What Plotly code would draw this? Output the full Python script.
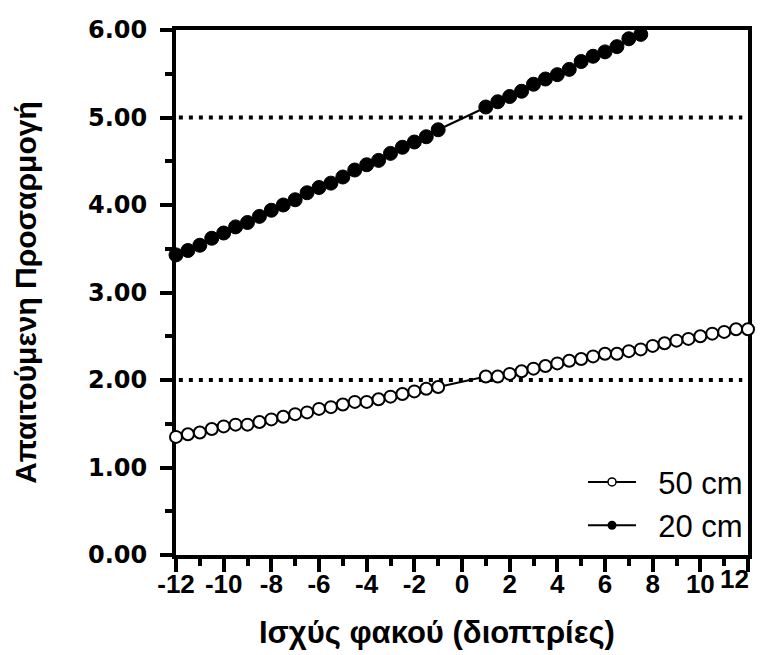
import plotly.graph_objects as go

# Lens power (dioptres)
x_neg = [-12, -11.5, -11, -10.5, -10, -9.5, -9, -8.5, -8, -7.5, -7, -6.5,
         -6, -5.5, -5, -4.5, -4, -3.5, -3, -2.5, -2, -1.5, -1]
x_pos_50 = [1, 1.5, 2, 2.5, 3, 3.5, 4, 4.5, 5, 5.5, 6, 6.5, 7, 7.5, 8, 8.5,
            9, 9.5, 10, 10.5, 11, 11.5, 12]
x_pos_20 = [1, 1.5, 2, 2.5, 3, 3.5, 4, 4.5, 5, 5.5, 6, 6.5, 7, 7.5]

x_50 = x_neg + x_pos_50
x_20 = x_neg + x_pos_20

# Required accommodation (D)
y_50 = [1.35, 1.38, 1.40, 1.44, 1.47, 1.49, 1.49, 1.52, 1.55, 1.58, 1.61, 1.63,
        1.67, 1.69, 1.72, 1.75, 1.75, 1.78, 1.81, 1.84, 1.87, 1.90, 1.92,
        2.04, 2.04, 2.07, 2.10, 2.13, 2.16, 2.19, 2.22, 2.24, 2.27, 2.30, 2.30,
        2.33, 2.35, 2.39, 2.42, 2.45, 2.47, 2.50, 2.53, 2.55, 2.58, 2.58]
y_20 = [3.43, 3.48, 3.54, 3.62, 3.68, 3.75, 3.80, 3.87, 3.94, 4.00, 4.06, 4.14,
        4.20, 4.25, 4.32, 4.40, 4.46, 4.51, 4.59, 4.66, 4.72, 4.78, 4.86,
        5.12, 5.18, 5.24, 5.30, 5.38, 5.44, 5.49, 5.55, 5.64, 5.70, 5.75, 5.81,
        5.90, 5.95]

ref_levels = [2.0, 5.0]

x_tickvals = [-12, -10, -8, -6, -4, -2, 0, 2, 4, 6, 8, 10, 12]
x_ticktext = ["-12", "-10", "-8", "-6", "-4", "-2", "0", "2", "4", "6", "8", "10", "12"]
y_tickvals = [0, 1, 2, 3, 4, 5, 6]
y_ticktext = ["0.00", "1.00", "2.00", "3.00", "4.00", "5.00", "6.00"]

series_names = ["50 cm", "20 cm"]
x_title = "Ισχύς φακού (διοπτρίες)"
y_title = "Απαιτούμενη Προσαρμογή"

WIDE = "DejaVu Sans, Liberation Sans, Arial, sans-serif"
ARIAL = "Liberation Sans, Arial, sans-serif"
NBSP = "\u00a0"

fig = go.Figure()

fig.add_trace(go.Scatter(
    x=x_50, y=y_50, mode="lines+markers", name=series_names[0],
    line=dict(color="black", width=2),
    marker=dict(symbol="circle", size=12, color="white",
                line=dict(color="black", width=2)),
    cliponaxis=False, showlegend=False))
fig.add_trace(go.Scatter(
    x=x_20, y=y_20, mode="lines+markers", name=series_names[1],
    line=dict(color="black", width=2),
    marker=dict(symbol="circle", size=14, color="black",
                line=dict(color="black", width=1)),
    cliponaxis=False, showlegend=False))

# legend entries (smaller symbols as in the reference legend)
fig.add_trace(go.Scatter(
    x=[None], y=[None], mode="lines+markers", name=NBSP * 2 + series_names[0],
    line=dict(color="black", width=2),
    marker=dict(symbol="circle", size=8, color="white",
                line=dict(color="black", width=1.5))))
fig.add_trace(go.Scatter(
    x=[None], y=[None], mode="lines+markers", name=NBSP * 2 + series_names[1],
    line=dict(color="black", width=2),
    marker=dict(symbol="circle", size=9, color="black")))

for lvl in ref_levels:
    fig.add_shape(type="line", xref="paper", yref="y", x0=0.005, x1=0.99,
                  y0=lvl, y1=lvl, layer="below",
                  line=dict(color="black", width=4, dash="4px,6px"))

fig.add_annotation(text=x_title, xref="paper", yref="paper", x=0.456, y=0,
                   xanchor="center", yanchor="middle", yshift=-77,
                   showarrow=False,
                   font=dict(family=ARIAL, size=31, color="black", weight="bold"))

# last tick label kept inside the page (as in the reference)
shown_ticktext = x_ticktext[:-1] + [""]
fig.add_annotation(text=x_ticktext[-1], xref="x", yref="paper",
                   x=x_tickvals[-1], y=0, xanchor="right", yanchor="middle",
                   xshift=3, yshift=-24, showarrow=False,
                   font=dict(family=ARIAL, size=26, color="black", weight="bold"))

fig.update_layout(
    width=756, height=647,
    margin=dict(l=168, r=16, t=22, b=100),
    paper_bgcolor="white", plot_bgcolor="white",
    showlegend=True,
    legend=dict(x=1.0, xanchor="right", y=0.19, yanchor="top",
                bgcolor="rgba(0,0,0,0)", borderwidth=0,
                font=dict(family=ARIAL, size=31, color="black"),
                itemwidth=48, tracegroupgap=0),
    xaxis=dict(
        range=[-12, 12], showgrid=False, zeroline=False, automargin=False,
        showline=True, linecolor="black", linewidth=4, mirror=True,
        ticks="outside", ticklen=13, tickwidth=4, tickcolor="black",
        tickvals=x_tickvals, ticktext=shown_ticktext, ticklabelstandoff=-10,
        tickfont=dict(family=ARIAL, size=26, color="black", weight="bold"),
        minor=dict(ticks="outside", dtick=1, tick0=-12, ticklen=7,
                   tickwidth=4, tickcolor="black", showgrid=False),
        layer="below traces",
    ),
    yaxis=dict(
        range=[0, 6], showgrid=False, zeroline=False, automargin=False,
        showline=True, linecolor="black", linewidth=4, mirror=True,
        ticks="outside", ticklen=12, tickwidth=4, tickcolor="black",
        tickvals=y_tickvals, ticktext=y_ticktext, ticklabelstandoff=8,
        tickfont=dict(family=WIDE, size=24, color="black", weight="bold"),
        minor=dict(ticks="outside", dtick=0.5, tick0=0, ticklen=7,
                   tickwidth=4, tickcolor="black", showgrid=False),
        layer="below traces",
        title=dict(text=y_title, standoff=43,
                   font=dict(family=ARIAL, size=30, color="black", weight="bold")),
    ),
)

fig.write_html("out.html")
